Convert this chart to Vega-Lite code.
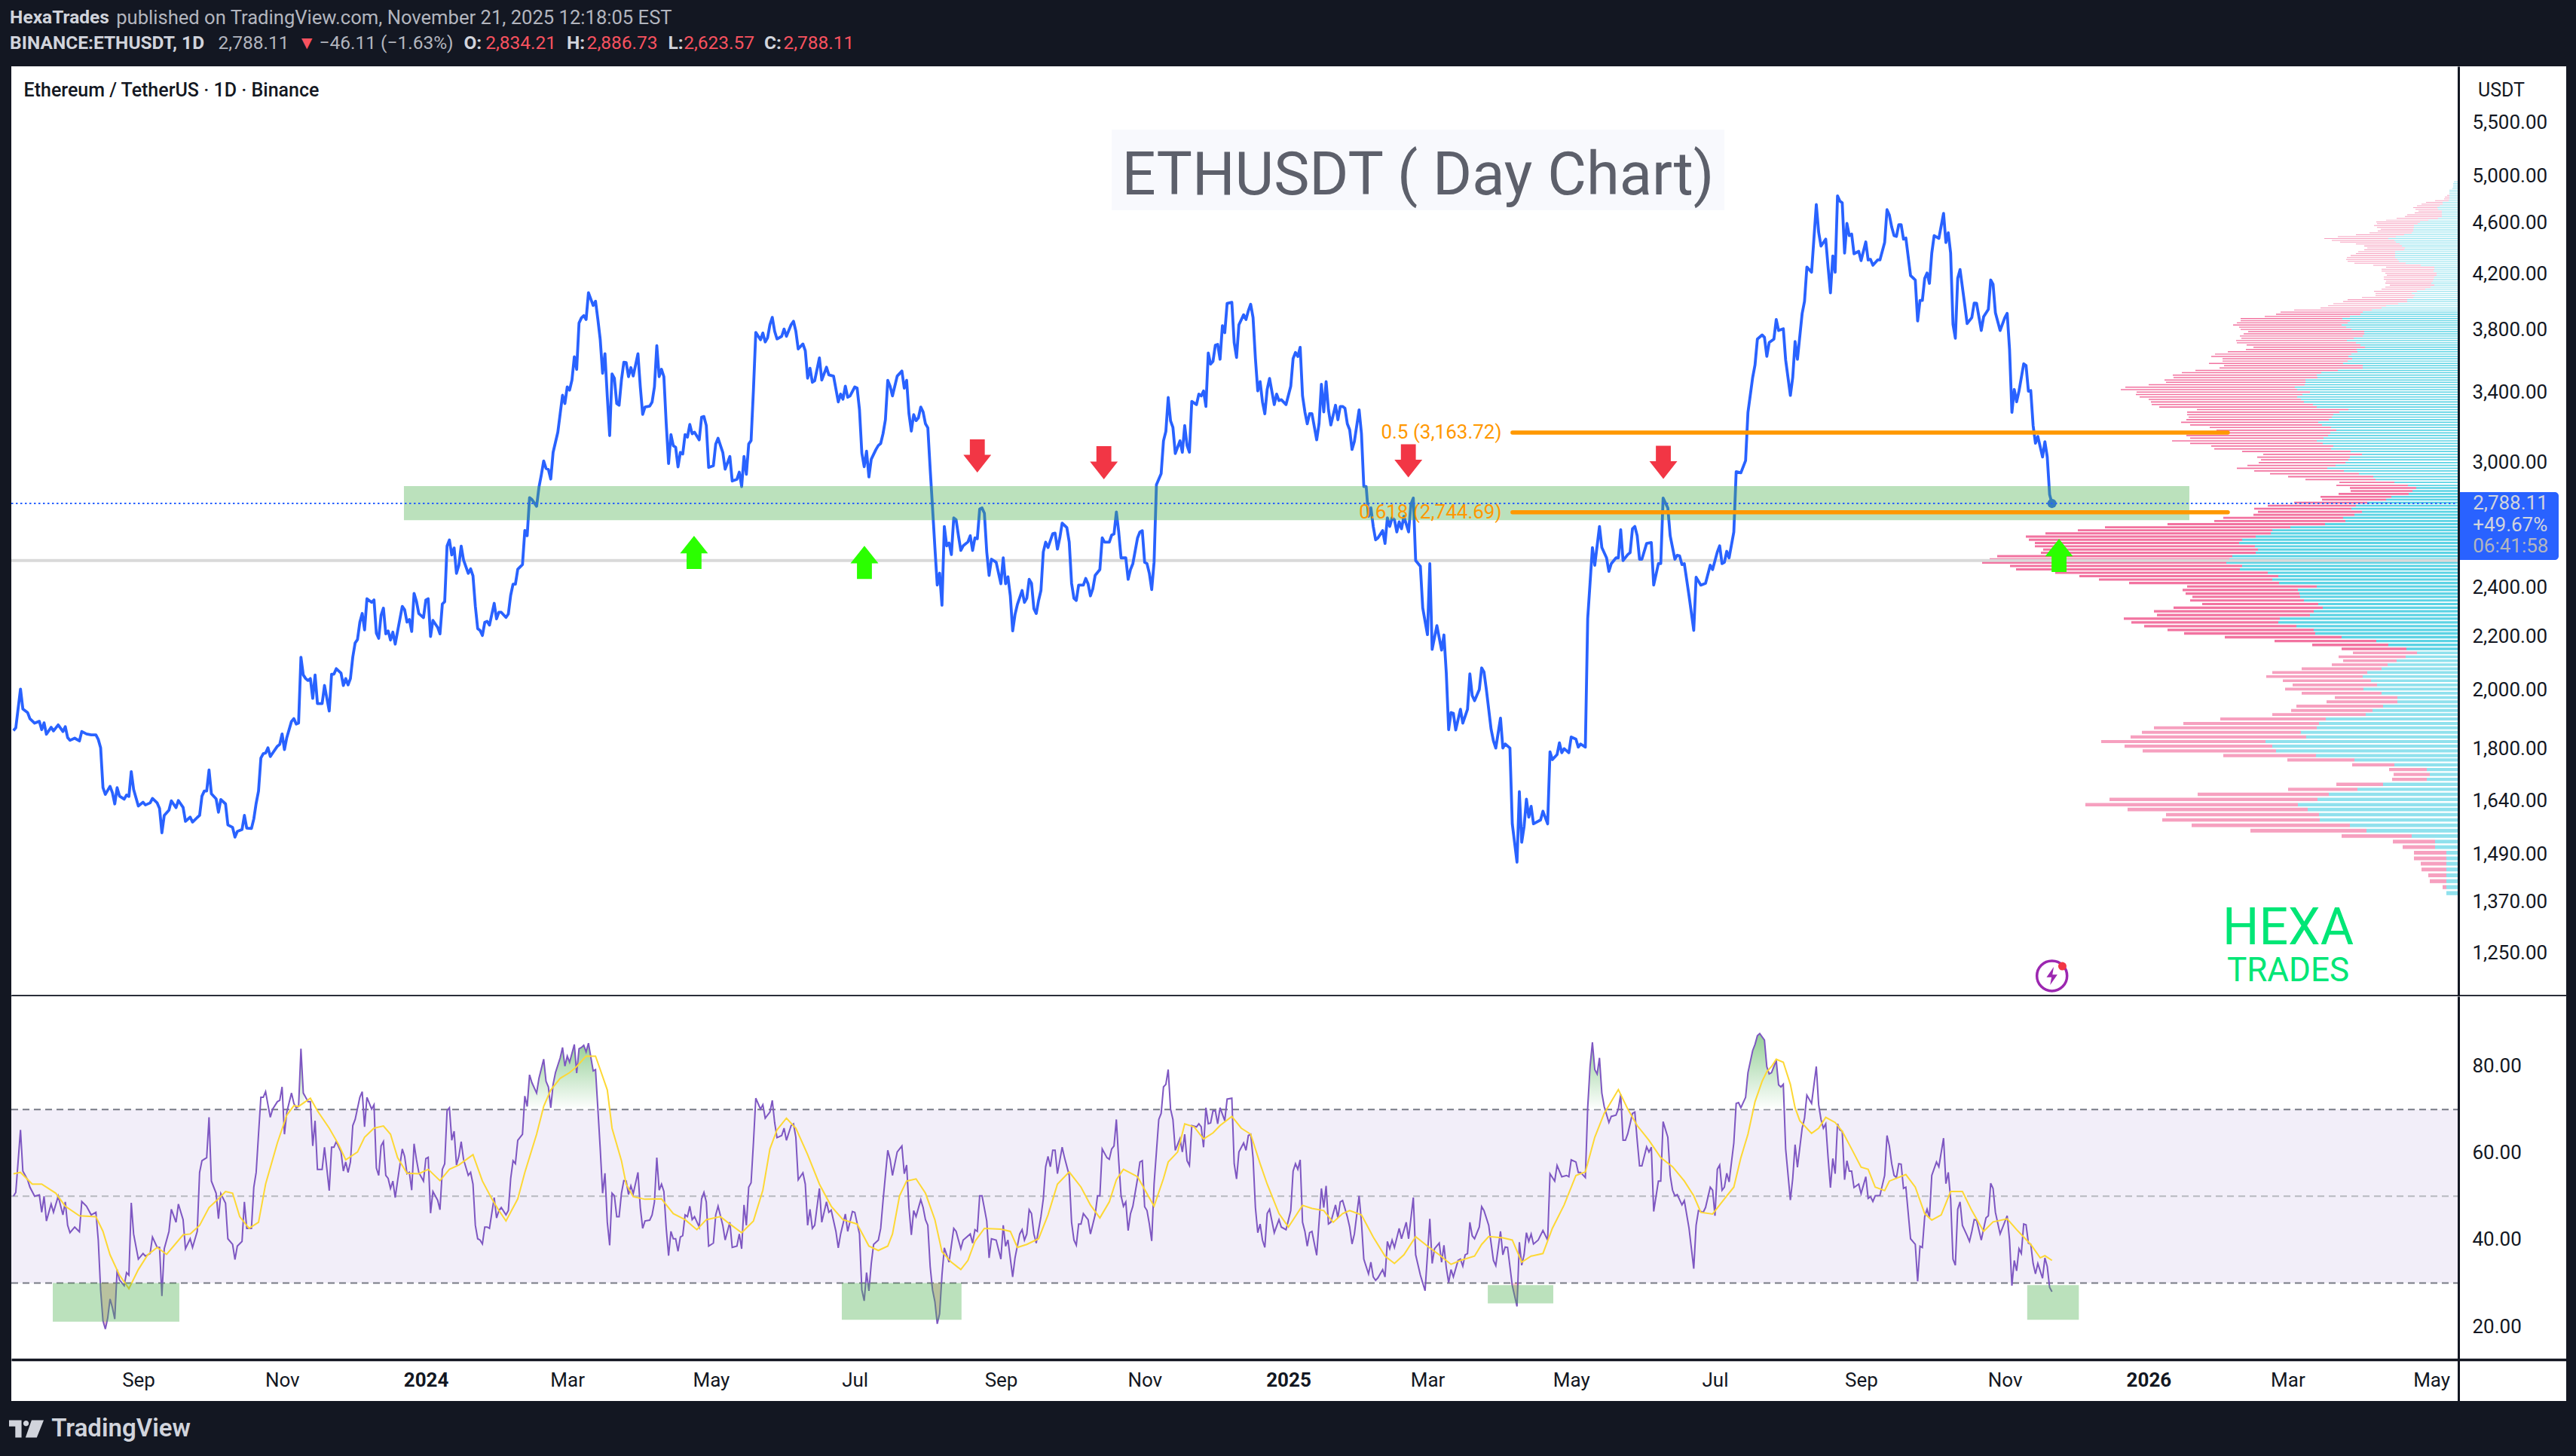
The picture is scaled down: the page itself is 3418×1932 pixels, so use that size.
{"$schema":"https://vega.github.io/schema/vega-lite/v6.json","background":"#131722","padding":{"left":12,"top":0,"right":14,"bottom":0},"spacing":0,
"datasets":{
"price":[{"d":-175,"p":1859},{"d":-174,"p":1868},{"d":-172,"p":2002},{"d":-171,"p":1932},{"d":-169,"p":1920},{"d":-168,"p":1899},{"d":-166,"p":1884},{"d":-164,"p":1890},{"d":-163,"p":1862},{"d":-162,"p":1885},{"d":-161,"p":1847},{"d":-159,"p":1870},{"d":-158,"p":1858},{"d":-156,"p":1878},{"d":-154,"p":1856},{"d":-153,"p":1872},{"d":-152,"p":1836},{"d":-151,"p":1827},{"d":-149,"p":1834},{"d":-147,"p":1825},{"d":-146,"p":1856},{"d":-144,"p":1848},{"d":-142,"p":1845},{"d":-140,"p":1845},{"d":-139,"p":1830},{"d":-138,"p":1803},{"d":-137,"p":1679},{"d":-136,"p":1659},{"d":-134,"p":1683},{"d":-133,"p":1664},{"d":-132,"p":1631},{"d":-131,"p":1679},{"d":-130,"p":1654},{"d":-128,"p":1645},{"d":-127,"p":1657},{"d":-126,"p":1653},{"d":-125,"p":1728},{"d":-124,"p":1674},{"d":-122,"p":1625},{"d":-120,"p":1636},{"d":-119,"p":1628},{"d":-117,"p":1634},{"d":-116,"p":1647},{"d":-114,"p":1634},{"d":-113,"p":1618},{"d":-112,"p":1549},{"d":-111,"p":1598},{"d":-109,"p":1613},{"d":-108,"p":1640},{"d":-106,"p":1620},{"d":-105,"p":1641},{"d":-103,"p":1621},{"d":-102,"p":1581},{"d":-100,"p":1593},{"d":-99,"p":1579},{"d":-97,"p":1592},{"d":-96,"p":1598},{"d":-95,"p":1654},{"d":-94,"p":1669},{"d":-93,"p":1669},{"d":-92,"p":1733},{"d":-91,"p":1661},{"d":-89,"p":1646},{"d":-88,"p":1607},{"d":-87,"p":1644},{"d":-85,"p":1631},{"d":-84,"p":1571},{"d":-82,"p":1564},{"d":-81,"p":1537},{"d":-80,"p":1553},{"d":-78,"p":1558},{"d":-77,"p":1598},{"d":-76,"p":1562},{"d":-74,"p":1561},{"d":-73,"p":1588},{"d":-72,"p":1633},{"d":-71,"p":1669},{"d":-70,"p":1770},{"d":-69,"p":1784},{"d":-68,"p":1786},{"d":-67,"p":1803},{"d":-66,"p":1775},{"d":-65,"p":1786},{"d":-63,"p":1808},{"d":-62,"p":1814},{"d":-61,"p":1848},{"d":-60,"p":1797},{"d":-59,"p":1836},{"d":-57,"p":1890},{"d":-56,"p":1899},{"d":-55,"p":1881},{"d":-54,"p":1884},{"d":-53,"p":2119},{"d":-52,"p":2053},{"d":-51,"p":2040},{"d":-50,"p":2033},{"d":-49,"p":2040},{"d":-48,"p":1969},{"d":-47,"p":2053},{"d":-46,"p":1951},{"d":-44,"p":1951},{"d":-43,"p":2015},{"d":-41,"p":1925},{"d":-40,"p":2056},{"d":-39,"p":2056},{"d":-38,"p":2076},{"d":-36,"p":2060},{"d":-35,"p":2015},{"d":-34,"p":2040},{"d":-33,"p":2017},{"d":-32,"p":2040},{"d":-31,"p":2120},{"d":-30,"p":2174},{"d":-29,"p":2187},{"d":-28,"p":2256},{"d":-27,"p":2291},{"d":-26,"p":2225},{"d":-25,"p":2352},{"d":-23,"p":2337},{"d":-22,"p":2347},{"d":-21,"p":2212},{"d":-20,"p":2192},{"d":-19,"p":2284},{"d":-18,"p":2313},{"d":-17,"p":2209},{"d":-16,"p":2221},{"d":-15,"p":2185},{"d":-14,"p":2216},{"d":-13,"p":2169},{"d":-12,"p":2219},{"d":-10,"p":2320},{"d":-9,"p":2306},{"d":-8,"p":2256},{"d":-7,"p":2267},{"d":-6,"p":2219},{"d":-5,"p":2375},{"d":-4,"p":2342},{"d":-3,"p":2291},{"d":-1,"p":2274},{"d":0,"p":2347},{"d":1,"p":2352},{"d":2,"p":2199},{"d":3,"p":2263},{"d":5,"p":2235},{"d":6,"p":2209},{"d":7,"p":2330},{"d":8,"p":2340},{"d":9,"p":2584},{"d":10,"p":2612},{"d":11,"p":2543},{"d":12,"p":2575},{"d":13,"p":2461},{"d":14,"p":2496},{"d":15,"p":2584},{"d":16,"p":2520},{"d":18,"p":2461},{"d":19,"p":2481},{"d":20,"p":2450},{"d":21,"p":2321},{"d":22,"p":2230},{"d":23,"p":2223},{"d":24,"p":2203},{"d":25,"p":2255},{"d":26,"p":2259},{"d":27,"p":2244},{"d":29,"p":2333},{"d":30,"p":2269},{"d":31,"p":2296},{"d":32,"p":2296},{"d":34,"p":2275},{"d":35,"p":2289},{"d":36,"p":2367},{"d":37,"p":2414},{"d":38,"p":2414},{"d":39,"p":2479},{"d":41,"p":2500},{"d":42,"p":2657},{"d":43,"p":2632},{"d":44,"p":2817},{"d":45,"p":2808},{"d":47,"p":2774},{"d":48,"p":2870},{"d":49,"p":2934},{"d":50,"p":3008},{"d":51,"p":2968},{"d":52,"p":2962},{"d":53,"p":2912},{"d":54,"p":3054},{"d":56,"p":3166},{"d":57,"p":3272},{"d":58,"p":3382},{"d":59,"p":3332},{"d":60,"p":3433},{"d":61,"p":3413},{"d":62,"p":3475},{"d":63,"p":3622},{"d":64,"p":3542},{"d":65,"p":3847},{"d":66,"p":3882},{"d":67,"p":3898},{"d":68,"p":3871},{"d":69,"p":4061},{"d":71,"p":3969},{"d":72,"p":4000},{"d":73,"p":3871},{"d":74,"p":3734},{"d":75,"p":3517},{"d":76,"p":3642},{"d":77,"p":3372},{"d":78,"p":3147},{"d":79,"p":3513},{"d":80,"p":3486},{"d":81,"p":3332},{"d":82,"p":3322},{"d":83,"p":3475},{"d":84,"p":3587},{"d":85,"p":3585},{"d":86,"p":3496},{"d":87,"p":3553},{"d":88,"p":3500},{"d":90,"p":3642},{"d":91,"p":3433},{"d":92,"p":3268},{"d":93,"p":3311},{"d":95,"p":3317},{"d":96,"p":3341},{"d":97,"p":3433},{"d":98,"p":3695},{"d":99,"p":3496},{"d":100,"p":3542},{"d":101,"p":3496},{"d":102,"p":3214},{"d":103,"p":2994},{"d":104,"p":3153},{"d":105,"p":3091},{"d":106,"p":3082},{"d":107,"p":2976},{"d":108,"p":3054},{"d":109,"p":3045},{"d":110,"p":3153},{"d":111,"p":3138},{"d":112,"p":3210},{"d":113,"p":3157},{"d":114,"p":3166},{"d":116,"p":3123},{"d":117,"p":3252},{"d":118,"p":3256},{"d":119,"p":3204},{"d":120,"p":2973},{"d":122,"p":2982},{"d":123,"p":3100},{"d":124,"p":3132},{"d":126,"p":3054},{"d":127,"p":2964},{"d":129,"p":3032},{"d":130,"p":2902},{"d":132,"p":2911},{"d":133,"p":2948},{"d":134,"p":2873},{"d":135,"p":3032},{"d":136,"p":2937},{"d":137,"p":3100},{"d":138,"p":3119},{"d":139,"p":3413},{"d":140,"p":3783},{"d":142,"p":3734},{"d":143,"p":3779},{"d":144,"p":3719},{"d":145,"p":3746},{"d":146,"p":3836},{"d":147,"p":3886},{"d":148,"p":3791},{"d":149,"p":3739},{"d":151,"p":3757},{"d":152,"p":3806},{"d":153,"p":3757},{"d":155,"p":3836},{"d":156,"p":3859},{"d":157,"p":3791},{"d":158,"p":3673},{"d":160,"p":3706},{"d":161,"p":3662},{"d":162,"p":3486},{"d":163,"p":3549},{"d":164,"p":3461},{"d":165,"p":3471},{"d":167,"p":3615},{"d":168,"p":3475},{"d":170,"p":3555},{"d":171,"p":3507},{"d":173,"p":3499},{"d":175,"p":3342},{"d":176,"p":3389},{"d":177,"p":3358},{"d":178,"p":3437},{"d":179,"p":3370},{"d":180,"p":3378},{"d":182,"p":3432},{"d":183,"p":3425},{"d":184,"p":3296},{"d":185,"p":3050},{"d":186,"p":2977},{"d":187,"p":3061},{"d":188,"p":2923},{"d":189,"p":3017},{"d":191,"p":3070},{"d":192,"p":3092},{"d":193,"p":3103},{"d":194,"p":3158},{"d":195,"p":3237},{"d":196,"p":3473},{"d":197,"p":3437},{"d":198,"p":3378},{"d":200,"p":3499},{"d":202,"p":3531},{"d":203,"p":3425},{"d":204,"p":3473},{"d":205,"p":3272},{"d":206,"p":3172},{"d":207,"p":3267},{"d":208,"p":3232},{"d":209,"p":3248},{"d":210,"p":3311},{"d":211,"p":3283},{"d":212,"p":3214},{"d":213,"p":3191},{"d":214,"p":2965},{"d":215,"p":2766},{"d":216,"p":2577},{"d":217,"p":2410},{"d":218,"p":2462},{"d":219,"p":2325},{"d":220,"p":2676},{"d":221,"p":2585},{"d":222,"p":2598},{"d":223,"p":2545},{"d":224,"p":2717},{"d":225,"p":2708},{"d":226,"p":2632},{"d":227,"p":2564},{"d":228,"p":2585},{"d":230,"p":2603},{"d":231,"p":2632},{"d":232,"p":2564},{"d":233,"p":2622},{"d":234,"p":2618},{"d":235,"p":2760},{"d":236,"p":2766},{"d":237,"p":2740},{"d":238,"p":2557},{"d":239,"p":2452},{"d":240,"p":2524},{"d":242,"p":2510},{"d":244,"p":2416},{"d":245,"p":2530},{"d":246,"p":2416},{"d":247,"p":2446},{"d":248,"p":2365},{"d":249,"p":2221},{"d":250,"p":2287},{"d":251,"p":2328},{"d":253,"p":2387},{"d":254,"p":2337},{"d":255,"p":2354},{"d":256,"p":2435},{"d":257,"p":2418},{"d":258,"p":2311},{"d":259,"p":2291},{"d":260,"p":2345},{"d":261,"p":2387},{"d":262,"p":2557},{"d":263,"p":2602},{"d":264,"p":2577},{"d":266,"p":2642},{"d":267,"p":2644},{"d":268,"p":2570},{"d":269,"p":2622},{"d":270,"p":2692},{"d":272,"p":2670},{"d":273,"p":2602},{"d":274,"p":2418},{"d":275,"p":2354},{"d":276,"p":2345},{"d":277,"p":2410},{"d":279,"p":2410},{"d":280,"p":2439},{"d":281,"p":2415},{"d":282,"p":2364},{"d":283,"p":2394},{"d":284,"p":2452},{"d":286,"p":2478},{"d":287,"p":2622},{"d":288,"p":2602},{"d":290,"p":2602},{"d":291,"p":2635},{"d":292,"p":2640},{"d":293,"p":2746},{"d":294,"p":2650},{"d":295,"p":2530},{"d":297,"p":2530},{"d":298,"p":2435},{"d":299,"p":2478},{"d":300,"p":2504},{"d":302,"p":2622},{"d":303,"p":2650},{"d":304,"p":2656},{"d":305,"p":2510},{"d":306,"p":2504},{"d":307,"p":2461},{"d":308,"p":2391},{"d":309,"p":2510},{"d":310,"p":2883},{"d":312,"p":2940},{"d":313,"p":3118},{"d":314,"p":3170},{"d":315,"p":3368},{"d":316,"p":3231},{"d":317,"p":3193},{"d":318,"p":3048},{"d":320,"p":3118},{"d":321,"p":3055},{"d":322,"p":3204},{"d":323,"p":3092},{"d":324,"p":3055},{"d":325,"p":3345},{"d":327,"p":3326},{"d":328,"p":3389},{"d":329,"p":3378},{"d":330,"p":3408},{"d":331,"p":3315},{"d":332,"p":3647},{"d":333,"p":3575},{"d":334,"p":3593},{"d":335,"p":3698},{"d":336,"p":3703},{"d":337,"p":3606},{"d":338,"p":3829},{"d":339,"p":3781},{"d":340,"p":3984},{"d":342,"p":3992},{"d":343,"p":3714},{"d":344,"p":3618},{"d":345,"p":3835},{"d":347,"p":3904},{"d":348,"p":3871},{"d":349,"p":3932},{"d":350,"p":3978},{"d":351,"p":3885},{"d":352,"p":3611},{"d":353,"p":3408},{"d":354,"p":3465},{"d":355,"p":3342},{"d":356,"p":3272},{"d":357,"p":3418},{"d":358,"p":3485},{"d":360,"p":3326},{"d":361,"p":3389},{"d":362,"p":3350},{"d":363,"p":3355},{"d":365,"p":3326},{"d":367,"p":3437},{"d":368,"p":3611},{"d":369,"p":3650},{"d":370,"p":3624},{"d":371,"p":3684},{"d":372,"p":3378},{"d":373,"p":3283},{"d":374,"p":3214},{"d":375,"p":3272},{"d":376,"p":3272},{"d":378,"p":3123},{"d":379,"p":3214},{"d":380,"p":3449},{"d":381,"p":3283},{"d":382,"p":3465},{"d":383,"p":3295},{"d":384,"p":3207},{"d":386,"p":3322},{"d":387,"p":3237},{"d":388,"p":3315},{"d":389,"p":3315},{"d":390,"p":3304},{"d":391,"p":3214},{"d":392,"p":3180},{"d":393,"p":3070},{"d":394,"p":3114},{"d":396,"p":3295},{"d":397,"p":3158},{"d":398,"p":2873},{"d":399,"p":2873},{"d":400,"p":2725},{"d":401,"p":2766},{"d":402,"p":2676},{"d":403,"p":2613},{"d":404,"p":2622},{"d":406,"p":2656},{"d":407,"p":2596},{"d":408,"p":2717},{"d":409,"p":2676},{"d":410,"p":2717},{"d":411,"p":2708},{"d":412,"p":2650},{"d":413,"p":2698},{"d":414,"p":2665},{"d":415,"p":2725},{"d":417,"p":2650},{"d":418,"p":2785},{"d":419,"p":2815},{"d":420,"p":2518},{"d":422,"p":2492},{"d":423,"p":2314},{"d":425,"p":2206},{"d":426,"p":2504},{"d":427,"p":2149},{"d":429,"p":2242},{"d":431,"p":2146},{"d":432,"p":2205},{"d":433,"p":2060},{"d":434,"p":1862},{"d":435,"p":1920},{"d":436,"p":1917},{"d":437,"p":1861},{"d":439,"p":1931},{"d":440,"p":1884},{"d":442,"p":1931},{"d":443,"p":2057},{"d":444,"p":1979},{"d":445,"p":1961},{"d":447,"p":2000},{"d":448,"p":2079},{"d":449,"p":2064},{"d":450,"p":2000},{"d":452,"p":1864},{"d":453,"p":1825},{"d":454,"p":1802},{"d":456,"p":1901},{"d":457,"p":1802},{"d":458,"p":1815},{"d":460,"p":1802},{"d":461,"p":1574},{"d":463,"p":1470},{"d":464,"p":1667},{"d":465,"p":1523},{"d":466,"p":1566},{"d":467,"p":1645},{"d":468,"p":1593},{"d":469,"p":1624},{"d":470,"p":1574},{"d":473,"p":1585},{"d":474,"p":1610},{"d":476,"p":1574},{"d":477,"p":1790},{"d":478,"p":1765},{"d":480,"p":1781},{"d":481,"p":1819},{"d":482,"p":1787},{"d":483,"p":1800},{"d":485,"p":1787},{"d":486,"p":1838},{"d":488,"p":1831},{"d":489,"p":1805},{"d":490,"p":1815},{"d":492,"p":1805},{"d":493,"p":2270},{"d":495,"p":2577},{"d":496,"p":2497},{"d":498,"p":2676},{"d":499,"p":2577},{"d":501,"p":2530},{"d":502,"p":2470},{"d":503,"p":2504},{"d":505,"p":2530},{"d":506,"p":2530},{"d":507,"p":2660},{"d":508,"p":2518},{"d":510,"p":2545},{"d":511,"p":2554},{"d":512,"p":2665},{"d":513,"p":2676},{"d":514,"p":2632},{"d":515,"p":2524},{"d":516,"p":2524},{"d":518,"p":2596},{"d":520,"p":2600},{"d":521,"p":2410},{"d":523,"p":2504},{"d":524,"p":2504},{"d":525,"p":2815},{"d":527,"p":2766},{"d":528,"p":2632},{"d":529,"p":2577},{"d":530,"p":2524},{"d":531,"p":2542},{"d":532,"p":2539},{"d":533,"p":2500},{"d":534,"p":2504},{"d":536,"p":2365},{"d":538,"p":2223},{"d":539,"p":2444},{"d":541,"p":2410},{"d":543,"p":2418},{"d":545,"p":2497},{"d":546,"p":2478},{"d":548,"p":2557},{"d":549,"p":2585},{"d":550,"p":2504},{"d":551,"p":2510},{"d":552,"p":2560},{"d":553,"p":2530},{"d":555,"p":2650},{"d":556,"p":2951},{"d":558,"p":2945},{"d":560,"p":3010},{"d":561,"p":3280},{"d":563,"p":3491},{"d":564,"p":3570},{"d":565,"p":3738},{"d":567,"p":3766},{"d":568,"p":3750},{"d":569,"p":3625},{"d":570,"p":3715},{"d":572,"p":3738},{"d":573,"p":3871},{"d":574,"p":3796},{"d":576,"p":3808},{"d":577,"p":3601},{"d":579,"p":3381},{"d":580,"p":3491},{"d":581,"p":3722},{"d":582,"p":3606},{"d":584,"p":3914},{"d":585,"p":3999},{"d":586,"p":4251},{"d":588,"p":4212},{"d":590,"p":4753},{"d":591,"p":4524},{"d":592,"p":4413},{"d":594,"p":4468},{"d":595,"p":4251},{"d":596,"p":4060},{"d":597,"p":4336},{"d":598,"p":4212},{"d":599,"p":4827},{"d":600,"p":4782},{"d":601,"p":4768},{"d":602,"p":4358},{"d":603,"p":4595},{"d":604,"p":4496},{"d":605,"p":4509},{"d":606,"p":4353},{"d":608,"p":4372},{"d":609,"p":4300},{"d":611,"p":4446},{"d":612,"p":4305},{"d":613,"p":4310},{"d":614,"p":4265},{"d":616,"p":4305},{"d":617,"p":4305},{"d":619,"p":4441},{"d":620,"p":4709},{"d":621,"p":4665},{"d":622,"p":4565},{"d":623,"p":4496},{"d":624,"p":4490},{"d":625,"p":4585},{"d":626,"p":4585},{"d":627,"p":4468},{"d":628,"p":4477},{"d":630,"p":4187},{"d":632,"p":4154},{"d":633,"p":3861},{"d":634,"p":4005},{"d":635,"p":4005},{"d":636,"p":4167},{"d":637,"p":4206},{"d":638,"p":4129},{"d":639,"p":4358},{"d":640,"p":4496},{"d":642,"p":4474},{"d":644,"p":4678},{"d":645,"p":4441},{"d":646,"p":4519},{"d":647,"p":4358},{"d":648,"p":3838},{"d":649,"p":3744},{"d":650,"p":4167},{"d":651,"p":4232},{"d":653,"p":3973},{"d":654,"p":3843},{"d":656,"p":3885},{"d":657,"p":3987},{"d":658,"p":3985},{"d":660,"p":3796},{"d":661,"p":3890},{"d":663,"p":3942},{"d":664,"p":4154},{"d":665,"p":4123},{"d":666,"p":3918},{"d":668,"p":3796},{"d":670,"p":3885},{"d":671,"p":3914},{"d":672,"p":3670},{"d":673,"p":3280},{"d":674,"p":3417},{"d":675,"p":3343},{"d":676,"p":3406},{"d":678,"p":3577},{"d":679,"p":3566},{"d":680,"p":3406},{"d":681,"p":3410},{"d":682,"p":3204},{"d":683,"p":3104},{"d":684,"p":3142},{"d":686,"p":3029},{"d":687,"p":3113},{"d":688,"p":3029},{"d":689,"p":2833},{"d":690,"p":2788}],
"rsi":[{"d":-175,"r":50},{"d":-174,"r":50.9},{"d":-172,"r":65.3},{"d":-171,"r":55.8},{"d":-169,"r":53.8},{"d":-168,"r":52.1},{"d":-166,"r":50},{"d":-164,"r":50.3},{"d":-163,"r":46.3},{"d":-162,"r":50},{"d":-161,"r":44.3},{"d":-159,"r":48.2},{"d":-158,"r":46.3},{"d":-156,"r":50},{"d":-154,"r":45.7},{"d":-153,"r":48.7},{"d":-152,"r":43.3},{"d":-151,"r":41.6},{"d":-149,"r":42.9},{"d":-147,"r":41.8},{"d":-146,"r":48.8},{"d":-144,"r":47.7},{"d":-142,"r":45.7},{"d":-140,"r":46.3},{"d":-139,"r":39.9},{"d":-138,"r":28.4},{"d":-137,"r":21.3},{"d":-136,"r":19.4},{"d":-135,"r":21.9},{"d":-134,"r":26.3},{"d":-133,"r":24.3},{"d":-132,"r":21.7},{"d":-131,"r":33.1},{"d":-130,"r":30.7},{"d":-128,"r":29.4},{"d":-127,"r":32.4},{"d":-126,"r":31.8},{"d":-125,"r":48.5},{"d":-124,"r":41.3},{"d":-122,"r":35.5},{"d":-120,"r":36.8},{"d":-119,"r":36.2},{"d":-117,"r":36.8},{"d":-116,"r":40.6},{"d":-114,"r":38.2},{"d":-113,"r":38.2},{"d":-112,"r":27},{"d":-111,"r":37.9},{"d":-109,"r":41.9},{"d":-108,"r":47},{"d":-106,"r":44},{"d":-105,"r":48.2},{"d":-103,"r":44.6},{"d":-102,"r":37.9},{"d":-100,"r":40.2},{"d":-99,"r":38.2},{"d":-97,"r":41.9},{"d":-96,"r":55.5},{"d":-95,"r":58.2},{"d":-93,"r":58.9},{"d":-92,"r":68.2},{"d":-91,"r":53.5},{"d":-89,"r":50.7},{"d":-88,"r":44.8},{"d":-87,"r":50.6},{"d":-85,"r":48.4},{"d":-84,"r":40.2},{"d":-82,"r":38.9},{"d":-81,"r":35.4},{"d":-80,"r":38.5},{"d":-78,"r":39.6},{"d":-77,"r":48.7},{"d":-76,"r":42.6},{"d":-74,"r":42.6},{"d":-73,"r":52.1},{"d":-72,"r":55.5},{"d":-71,"r":64.3},{"d":-70,"r":72.8},{"d":-69,"r":72.8},{"d":-68,"r":74.1},{"d":-67,"r":71.1},{"d":-66,"r":68.2},{"d":-65,"r":70.1},{"d":-63,"r":71.8},{"d":-62,"r":72.1},{"d":-61,"r":75.2},{"d":-60,"r":64.3},{"d":-59,"r":69.4},{"d":-57,"r":73.8},{"d":-56,"r":71.4},{"d":-55,"r":70.4},{"d":-54,"r":70.7},{"d":-53,"r":84},{"d":-52,"r":73.8},{"d":-50,"r":71.8},{"d":-49,"r":71.8},{"d":-48,"r":61.6},{"d":-47,"r":67.4},{"d":-46,"r":56.2},{"d":-44,"r":56.2},{"d":-43,"r":61.3},{"d":-41,"r":51.3},{"d":-40,"r":61.3},{"d":-39,"r":61.3},{"d":-38,"r":62.6},{"d":-36,"r":60.2},{"d":-35,"r":55.8},{"d":-34,"r":57.9},{"d":-33,"r":55.5},{"d":-32,"r":57.9},{"d":-31,"r":66.3},{"d":-30,"r":67.7},{"d":-28,"r":72.8},{"d":-27,"r":74.1},{"d":-26,"r":66},{"d":-25,"r":72.8},{"d":-23,"r":70.1},{"d":-22,"r":71.1},{"d":-21,"r":56.5},{"d":-20,"r":54.8},{"d":-19,"r":61.6},{"d":-18,"r":62.6},{"d":-17,"r":54.8},{"d":-16,"r":54.1},{"d":-15,"r":51.8},{"d":-14,"r":53.5},{"d":-13,"r":49.7},{"d":-12,"r":53.5},{"d":-10,"r":60.9},{"d":-9,"r":59.2},{"d":-8,"r":55.2},{"d":-7,"r":55.5},{"d":-6,"r":51.4},{"d":-5,"r":62.1},{"d":-4,"r":58.5},{"d":-3,"r":55.5},{"d":-1,"r":53.5},{"d":0,"r":58.7},{"d":1,"r":59},{"d":2,"r":46.1},{"d":3,"r":51.1},{"d":5,"r":49.1},{"d":6,"r":46.9},{"d":7,"r":56.2},{"d":8,"r":57.5},{"d":9,"r":69.7},{"d":10,"r":70.4},{"d":11,"r":62.9},{"d":12,"r":65},{"d":13,"r":57.2},{"d":14,"r":59.2},{"d":15,"r":62.6},{"d":16,"r":58.5},{"d":18,"r":54.8},{"d":19,"r":55.5},{"d":20,"r":52.8},{"d":21,"r":43.3},{"d":22,"r":40.2},{"d":23,"r":39.9},{"d":24,"r":39},{"d":25,"r":42.9},{"d":26,"r":42.9},{"d":27,"r":42.6},{"d":29,"r":49.7},{"d":30,"r":45},{"d":31,"r":46.7},{"d":32,"r":47.4},{"d":34,"r":45.7},{"d":35,"r":46.7},{"d":36,"r":54.1},{"d":37,"r":58.2},{"d":38,"r":57.5},{"d":39,"r":62.9},{"d":41,"r":64.3},{"d":42,"r":73.1},{"d":43,"r":70.7},{"d":44,"r":78},{"d":45,"r":76.2},{"d":47,"r":73.8},{"d":48,"r":77.2},{"d":50,"r":81.6},{"d":51,"r":76.5},{"d":52,"r":75.2},{"d":53,"r":70.4},{"d":54,"r":75.8},{"d":55,"r":78.5},{"d":57,"r":81.9},{"d":58,"r":84.3},{"d":59,"r":80},{"d":60,"r":82.3},{"d":61,"r":80.9},{"d":63,"r":85},{"d":64,"r":78.4},{"d":65,"r":84},{"d":66,"r":84.3},{"d":67,"r":84.8},{"d":68,"r":83.3},{"d":69,"r":85.3},{"d":71,"r":78.9},{"d":72,"r":79.2},{"d":73,"r":70.1},{"d":74,"r":60.9},{"d":75,"r":50.7},{"d":76,"r":55.3},{"d":77,"r":44},{"d":78,"r":38.7},{"d":79,"r":50.7},{"d":80,"r":50.1},{"d":81,"r":45.3},{"d":82,"r":45.3},{"d":83,"r":50.7},{"d":84,"r":53.6},{"d":85,"r":53.5},{"d":86,"r":50.4},{"d":87,"r":52.4},{"d":88,"r":50.6},{"d":90,"r":55.5},{"d":91,"r":47.4},{"d":92,"r":42.6},{"d":93,"r":44.3},{"d":95,"r":44.5},{"d":96,"r":45.7},{"d":97,"r":48.7},{"d":98,"r":58.9},{"d":99,"r":51.4},{"d":100,"r":52.8},{"d":101,"r":51.1},{"d":102,"r":42.6},{"d":103,"r":36.3},{"d":104,"r":41.9},{"d":105,"r":40.2},{"d":106,"r":40.2},{"d":107,"r":37.3},{"d":108,"r":40.6},{"d":109,"r":40.9},{"d":110,"r":45.7},{"d":111,"r":45.3},{"d":112,"r":47.7},{"d":113,"r":44.6},{"d":114,"r":45.3},{"d":116,"r":42.9},{"d":117,"r":49.4},{"d":118,"r":50.9},{"d":119,"r":48.7},{"d":120,"r":38.5},{"d":122,"r":39.2},{"d":123,"r":45.7},{"d":124,"r":47.7},{"d":126,"r":43.3},{"d":127,"r":39.9},{"d":129,"r":44},{"d":130,"r":38.2},{"d":132,"r":38.5},{"d":133,"r":41.3},{"d":134,"r":37.9},{"d":135,"r":48},{"d":136,"r":43.3},{"d":137,"r":52.1},{"d":138,"r":53.1},{"d":139,"r":62.3},{"d":140,"r":72.6},{"d":142,"r":70.1},{"d":143,"r":71.1},{"d":144,"r":68},{"d":146,"r":69.4},{"d":147,"r":72.1},{"d":148,"r":67},{"d":149,"r":63.5},{"d":151,"r":64},{"d":152,"r":65.7},{"d":153,"r":62.9},{"d":155,"r":66.3},{"d":156,"r":66.7},{"d":157,"r":63.6},{"d":158,"r":53.8},{"d":160,"r":55.4},{"d":161,"r":52.8},{"d":162,"r":43.3},{"d":163,"r":47},{"d":164,"r":42.6},{"d":165,"r":43.3},{"d":167,"r":51.8},{"d":168,"r":44},{"d":170,"r":48.7},{"d":171,"r":46.3},{"d":172,"r":46.8},{"d":174,"r":41.9},{"d":175,"r":38.1},{"d":176,"r":41.3},{"d":178,"r":45.9},{"d":179,"r":41.9},{"d":181,"r":46.5},{"d":182,"r":46.3},{"d":184,"r":41.3},{"d":185,"r":28.4},{"d":186,"r":25.9},{"d":187,"r":32.4},{"d":188,"r":28.2},{"d":189,"r":34.5},{"d":190,"r":38.9},{"d":192,"r":39.9},{"d":193,"r":42.6},{"d":194,"r":49},{"d":196,"r":60.6},{"d":197,"r":58.5},{"d":198,"r":54.8},{"d":200,"r":60.2},{"d":201,"r":60.9},{"d":202,"r":61.6},{"d":203,"r":55.2},{"d":204,"r":57.2},{"d":205,"r":47.4},{"d":206,"r":41.1},{"d":207,"r":46.7},{"d":208,"r":45.3},{"d":210,"r":49.2},{"d":211,"r":47.4},{"d":212,"r":44.6},{"d":213,"r":43.3},{"d":214,"r":33.8},{"d":215,"r":28.4},{"d":216,"r":25.7},{"d":217,"r":20.6},{"d":218,"r":22.9},{"d":219,"r":31.8},{"d":220,"r":38.1},{"d":221,"r":36.5},{"d":222,"r":34.8},{"d":224,"r":42.6},{"d":225,"r":41.9},{"d":227,"r":37.9},{"d":228,"r":39.9},{"d":231,"r":41.3},{"d":232,"r":39.2},{"d":233,"r":42.3},{"d":234,"r":41.9},{"d":235,"r":50.1},{"d":236,"r":50.1},{"d":238,"r":44.3},{"d":239,"r":35.8},{"d":240,"r":40.2},{"d":242,"r":39.9},{"d":244,"r":35.5},{"d":245,"r":43.3},{"d":246,"r":38.5},{"d":247,"r":39.9},{"d":249,"r":31.4},{"d":250,"r":35.8},{"d":252,"r":41.3},{"d":253,"r":42.3},{"d":254,"r":39.9},{"d":255,"r":41.3},{"d":256,"r":46.9},{"d":257,"r":46},{"d":258,"r":41.3},{"d":259,"r":39.2},{"d":261,"r":45.3},{"d":262,"r":49.4},{"d":263,"r":56.8},{"d":264,"r":59.2},{"d":265,"r":56.8},{"d":266,"r":60.6},{"d":267,"r":60.6},{"d":268,"r":55.2},{"d":270,"r":61.3},{"d":271,"r":58.9},{"d":273,"r":54.8},{"d":274,"r":44},{"d":275,"r":39.9},{"d":276,"r":38.7},{"d":277,"r":43.6},{"d":278,"r":43.6},{"d":279,"r":46},{"d":281,"r":44.6},{"d":282,"r":41.3},{"d":284,"r":45.7},{"d":285,"r":50.1},{"d":286,"r":50.1},{"d":287,"r":60.9},{"d":289,"r":58.9},{"d":290,"r":58.5},{"d":291,"r":60.9},{"d":292,"r":61.6},{"d":293,"r":67.7},{"d":294,"r":58.2},{"d":295,"r":50.1},{"d":296,"r":47.7},{"d":297,"r":48.7},{"d":298,"r":42.1},{"d":299,"r":46},{"d":300,"r":47.7},{"d":302,"r":54.1},{"d":303,"r":57.9},{"d":304,"r":58.2},{"d":305,"r":47.6},{"d":306,"r":46.7},{"d":307,"r":43.6},{"d":308,"r":39.7},{"d":309,"r":52.8},{"d":311,"r":67.7},{"d":312,"r":69.1},{"d":313,"r":75.2},{"d":314,"r":75.8},{"d":315,"r":79.2},{"d":316,"r":70.1},{"d":317,"r":67.7},{"d":318,"r":60.6},{"d":320,"r":63.3},{"d":321,"r":60.2},{"d":322,"r":64.3},{"d":323,"r":58.2},{"d":324,"r":57.1},{"d":325,"r":66.3},{"d":327,"r":66},{"d":328,"r":66.7},{"d":329,"r":66},{"d":330,"r":61.3},{"d":331,"r":70.4},{"d":332,"r":66.7},{"d":333,"r":66.9},{"d":334,"r":69.7},{"d":335,"r":69.7},{"d":336,"r":66.7},{"d":337,"r":70.4},{"d":339,"r":67.4},{"d":340,"r":72.4},{"d":342,"r":72.6},{"d":343,"r":57.5},{"d":344,"r":54},{"d":345,"r":60.2},{"d":347,"r":62.3},{"d":348,"r":60.6},{"d":349,"r":64},{"d":350,"r":64.3},{"d":351,"r":58.9},{"d":352,"r":47.4},{"d":353,"r":41.6},{"d":354,"r":43.6},{"d":355,"r":39.9},{"d":356,"r":38.2},{"d":357,"r":46},{"d":358,"r":47},{"d":360,"r":41.6},{"d":362,"r":44.6},{"d":363,"r":42.9},{"d":365,"r":42.3},{"d":367,"r":46.7},{"d":368,"r":55.8},{"d":369,"r":57.5},{"d":370,"r":56.2},{"d":371,"r":58.4},{"d":372,"r":44},{"d":373,"r":41.9},{"d":374,"r":38.5},{"d":375,"r":41.6},{"d":376,"r":41.9},{"d":378,"r":36.4},{"d":379,"r":44},{"d":380,"r":51.8},{"d":381,"r":47.4},{"d":382,"r":52.4},{"d":383,"r":43.6},{"d":384,"r":44},{"d":386,"r":48},{"d":387,"r":45},{"d":388,"r":48.7},{"d":389,"r":49},{"d":391,"r":45.3},{"d":392,"r":42.9},{"d":393,"r":39},{"d":394,"r":41.3},{"d":396,"r":50.1},{"d":397,"r":44},{"d":398,"r":35.5},{"d":400,"r":32.1},{"d":401,"r":34.8},{"d":402,"r":31.4},{"d":403,"r":30.6},{"d":404,"r":31.2},{"d":406,"r":33.1},{"d":407,"r":31.4},{"d":408,"r":39.6},{"d":409,"r":37.9},{"d":410,"r":39.9},{"d":411,"r":38.2},{"d":413,"r":42.6},{"d":414,"r":40.2},{"d":416,"r":44},{"d":417,"r":40.2},{"d":419,"r":49.7},{"d":420,"r":36.5},{"d":422,"r":31.8},{"d":424,"r":28.2},{"d":426,"r":44.8},{"d":427,"r":34.5},{"d":428,"r":37.9},{"d":430,"r":39.2},{"d":431,"r":34.8},{"d":432,"r":38.7},{"d":433,"r":33.5},{"d":434,"r":30.1},{"d":435,"r":33.1},{"d":436,"r":31.4},{"d":438,"r":35.2},{"d":439,"r":35.5},{"d":440,"r":33.9},{"d":441,"r":36.5},{"d":442,"r":36.8},{"d":443,"r":44},{"d":444,"r":40.9},{"d":445,"r":40.2},{"d":447,"r":42.9},{"d":448,"r":47.6},{"d":449,"r":46.7},{"d":451,"r":43.3},{"d":452,"r":39.2},{"d":453,"r":35.2},{"d":454,"r":34},{"d":456,"r":41.9},{"d":457,"r":36.5},{"d":458,"r":38.3},{"d":459,"r":38.2},{"d":461,"r":29.4},{"d":463,"r":24.6},{"d":464,"r":39.4},{"d":465,"r":34.1},{"d":466,"r":36.5},{"d":467,"r":41.6},{"d":468,"r":39.6},{"d":469,"r":41.3},{"d":470,"r":39},{"d":472,"r":39.9},{"d":474,"r":42.1},{"d":476,"r":39.9},{"d":477,"r":55.2},{"d":479,"r":53.5},{"d":480,"r":57.1},{"d":482,"r":54.5},{"d":484,"r":54.8},{"d":485,"r":54.5},{"d":486,"r":58.4},{"d":488,"r":57.9},{"d":489,"r":55.5},{"d":490,"r":55.5},{"d":492,"r":54.3},{"d":493,"r":70.4},{"d":494,"r":79.9},{"d":495,"r":85.5},{"d":496,"r":79.2},{"d":497,"r":78.2},{"d":498,"r":81.9},{"d":499,"r":73.8},{"d":500,"r":70.7},{"d":502,"r":67},{"d":503,"r":68.4},{"d":505,"r":68.7},{"d":506,"r":70.1},{"d":507,"r":73.5},{"d":508,"r":62.9},{"d":509,"r":62.9},{"d":510,"r":64.4},{"d":512,"r":69.1},{"d":513,"r":69.4},{"d":514,"r":62.9},{"d":515,"r":57},{"d":516,"r":57},{"d":518,"r":61.4},{"d":519,"r":60.2},{"d":520,"r":61.3},{"d":521,"r":46.5},{"d":523,"r":53.5},{"d":524,"r":53.5},{"d":525,"r":67.2},{"d":527,"r":63.6},{"d":528,"r":54.8},{"d":529,"r":51.4},{"d":530,"r":50.1},{"d":531,"r":50.4},{"d":533,"r":48},{"d":534,"r":49},{"d":536,"r":42.6},{"d":538,"r":33.3},{"d":539,"r":43.3},{"d":540,"r":46.7},{"d":542,"r":46.3},{"d":543,"r":47.4},{"d":545,"r":52.1},{"d":546,"r":51.4},{"d":547,"r":45.5},{"d":548,"r":56.2},{"d":549,"r":57.2},{"d":550,"r":51.4},{"d":551,"r":52.1},{"d":552,"r":55.3},{"d":553,"r":53.3},{"d":555,"r":62.3},{"d":556,"r":71.4},{"d":557,"r":71.6},{"d":558,"r":70.4},{"d":560,"r":72.8},{"d":561,"r":78.5},{"d":563,"r":83.6},{"d":564,"r":85},{"d":565,"r":87},{"d":566,"r":87.5},{"d":568,"r":86},{"d":569,"r":79.9},{"d":570,"r":78.2},{"d":571,"r":78.5},{"d":573,"r":81.3},{"d":574,"r":75.7},{"d":575,"r":75.2},{"d":576,"r":75.8},{"d":577,"r":60.9},{"d":579,"r":49.1},{"d":580,"r":54.1},{"d":581,"r":61.9},{"d":582,"r":56.7},{"d":584,"r":65.7},{"d":585,"r":68},{"d":586,"r":73.3},{"d":588,"r":71.4},{"d":590,"r":79.9},{"d":591,"r":71.1},{"d":592,"r":67.7},{"d":593,"r":65.7},{"d":594,"r":66.7},{"d":595,"r":58.9},{"d":596,"r":52},{"d":597,"r":58.7},{"d":598,"r":55.2},{"d":599,"r":66.7},{"d":600,"r":65.3},{"d":601,"r":65},{"d":602,"r":53.8},{"d":603,"r":58.2},{"d":604,"r":55.8},{"d":605,"r":55.8},{"d":606,"r":52},{"d":608,"r":52.8},{"d":609,"r":50.6},{"d":611,"r":54.5},{"d":612,"r":49.5},{"d":613,"r":49.9},{"d":614,"r":48.8},{"d":615,"r":50.1},{"d":617,"r":50.2},{"d":619,"r":54.8},{"d":620,"r":64},{"d":621,"r":61.6},{"d":622,"r":57.5},{"d":623,"r":54.8},{"d":624,"r":54.3},{"d":625,"r":57.5},{"d":626,"r":57.4},{"d":627,"r":51.8},{"d":628,"r":52.1},{"d":630,"r":40.2},{"d":632,"r":38.9},{"d":633,"r":30.4},{"d":634,"r":38.5},{"d":635,"r":38.2},{"d":636,"r":45.3},{"d":637,"r":47},{"d":638,"r":45},{"d":639,"r":54.8},{"d":641,"r":57.9},{"d":642,"r":56.8},{"d":644,"r":63.4},{"d":645,"r":52.9},{"d":646,"r":55.5},{"d":647,"r":49.4},{"d":648,"r":35.5},{"d":649,"r":34.1},{"d":650,"r":47},{"d":651,"r":48.7},{"d":652,"r":43.3},{"d":654,"r":40.9},{"d":655,"r":39.6},{"d":656,"r":41.9},{"d":657,"r":44.6},{"d":658,"r":44.5},{"d":660,"r":39.9},{"d":662,"r":45},{"d":663,"r":45.5},{"d":664,"r":53},{"d":665,"r":51.8},{"d":666,"r":46.3},{"d":668,"r":41.3},{"d":671,"r":45.5},{"d":672,"r":39.9},{"d":673,"r":29.4},{"d":674,"r":35.2},{"d":675,"r":32.8},{"d":676,"r":37.9},{"d":677,"r":36.8},{"d":678,"r":43.6},{"d":679,"r":43.4},{"d":680,"r":39.2},{"d":681,"r":38.9},{"d":682,"r":34.5},{"d":683,"r":32.1},{"d":684,"r":34.5},{"d":686,"r":31.1},{"d":687,"r":35.8},{"d":688,"r":33.8},{"d":689,"r":29},{"d":690,"r":28}],
"ma":[{"d":-175,"r":55.2},{"d":-172,"r":55.5},{"d":-167,"r":52.8},{"d":-163,"r":52.8},{"d":-157,"r":50.7},{"d":-153,"r":47.7},{"d":-147,"r":45.5},{"d":-140,"r":45.3},{"d":-137,"r":41.9},{"d":-134,"r":36.5},{"d":-130,"r":31.8},{"d":-126,"r":28.7},{"d":-122,"r":33.1},{"d":-118,"r":36.5},{"d":-114,"r":38.2},{"d":-110,"r":36.6},{"d":-103,"r":41.1},{"d":-100,"r":41.3},{"d":-96,"r":43.3},{"d":-92,"r":47.4},{"d":-88,"r":49.4},{"d":-85,"r":51.1},{"d":-82,"r":50.7},{"d":-79,"r":45.3},{"d":-75,"r":42.6},{"d":-71,"r":44},{"d":-68,"r":52.8},{"d":-63,"r":62.3},{"d":-59,"r":68.7},{"d":-56,"r":70.9},{"d":-54,"r":70.7},{"d":-49,"r":72.6},{"d":-46,"r":69.7},{"d":-41,"r":65.7},{"d":-37,"r":61.9},{"d":-34,"r":58.4},{"d":-29,"r":60.2},{"d":-26,"r":63.6},{"d":-22,"r":65.7},{"d":-18,"r":66.2},{"d":-15,"r":64.3},{"d":-12,"r":58.9},{"d":-8,"r":55.3},{"d":-3,"r":55.2},{"d":1,"r":56.2},{"d":6,"r":53.6},{"d":10,"r":56.2},{"d":14,"r":57.2},{"d":20,"r":59.6},{"d":24,"r":53.5},{"d":28,"r":49.4},{"d":31,"r":46.7},{"d":34,"r":44.3},{"d":39,"r":49.4},{"d":42,"r":55.5},{"d":47,"r":64.3},{"d":50,"r":70.7},{"d":53,"r":74.5},{"d":57,"r":77.2},{"d":61,"r":78.5},{"d":64,"r":79.9},{"d":68,"r":82.3},{"d":72,"r":82.3},{"d":74,"r":79.2},{"d":77,"r":74.5},{"d":79,"r":65.7},{"d":83,"r":58.2},{"d":85,"r":52.8},{"d":88,"r":49.9},{"d":93,"r":49.3},{"d":100,"r":49.4},{"d":105,"r":46},{"d":110,"r":44.6},{"d":115,"r":42.3},{"d":119,"r":44.6},{"d":125,"r":45.3},{"d":129,"r":43.6},{"d":134,"r":41.6},{"d":139,"r":44.3},{"d":143,"r":51.4},{"d":146,"r":60.9},{"d":149,"r":65.3},{"d":153,"r":68},{"d":157,"r":65.7},{"d":162,"r":59.6},{"d":167,"r":52.8},{"d":172,"r":47.7},{"d":177,"r":44.6},{"d":183,"r":43.6},{"d":188,"r":38.5},{"d":192,"r":37.5},{"d":196,"r":38.5},{"d":198,"r":41.3},{"d":201,"r":50.1},{"d":204,"r":53.5},{"d":208,"r":54},{"d":212,"r":50.7},{"d":216,"r":44.6},{"d":219,"r":37.2},{"d":223,"r":34.8},{"d":227,"r":33.1},{"d":230,"r":35.2},{"d":233,"r":39.6},{"d":237,"r":42.6},{"d":244,"r":42.4},{"d":248,"r":41.9},{"d":251,"r":38.2},{"d":255,"r":38.9},{"d":260,"r":40.2},{"d":264,"r":45.7},{"d":268,"r":52.8},{"d":273,"r":55.6},{"d":278,"r":52.1},{"d":282,"r":48},{"d":286,"r":45},{"d":290,"r":48.7},{"d":293,"r":53.8},{"d":296,"r":56.2},{"d":302,"r":54.5},{"d":309,"r":47.7},{"d":313,"r":54.1},{"d":315,"r":57.9},{"d":319,"r":60.2},{"d":322,"r":66.7},{"d":326,"r":66},{"d":330,"r":63.2},{"d":334,"r":64.6},{"d":337,"r":66.3},{"d":342,"r":68.4},{"d":346,"r":65.7},{"d":350,"r":64.3},{"d":354,"r":57.5},{"d":357,"r":52.8},{"d":362,"r":46},{"d":366,"r":42.9},{"d":372,"r":47.9},{"d":376,"r":47.2},{"d":381,"r":46.7},{"d":385,"r":44},{"d":389,"r":46},{"d":392,"r":46.7},{"d":397,"r":45.7},{"d":402,"r":40.6},{"d":407,"r":36.2},{"d":411,"r":34.5},{"d":415,"r":36.5},{"d":420,"r":40.7},{"d":425,"r":38.5},{"d":430,"r":36.5},{"d":435,"r":34.3},{"d":439,"r":35.2},{"d":445,"r":36.2},{"d":448,"r":38.9},{"d":451,"r":40.7},{"d":457,"r":40.4},{"d":461,"r":39.9},{"d":465,"r":34.8},{"d":469,"r":36.2},{"d":474,"r":36.8},{"d":478,"r":42.6},{"d":483,"r":48},{"d":488,"r":54.8},{"d":492,"r":55.6},{"d":496,"r":63.6},{"d":500,"r":69.1},{"d":506,"r":74.6},{"d":510,"r":70.1},{"d":514,"r":66.3},{"d":519,"r":62.9},{"d":524,"r":58.9},{"d":529,"r":56.8},{"d":534,"r":53.5},{"d":538,"r":50.1},{"d":541,"r":46.3},{"d":546,"r":45.9},{"d":551,"r":49.4},{"d":555,"r":52.1},{"d":558,"r":58.9},{"d":561,"r":64.3},{"d":564,"r":71.8},{"d":567,"r":76.5},{"d":569,"r":78.7},{"d":571,"r":79.9},{"d":573,"r":81.6},{"d":576,"r":80.9},{"d":579,"r":75.8},{"d":581,"r":70.4},{"d":583,"r":67.4},{"d":588,"r":64.5},{"d":591,"r":65.7},{"d":594,"r":68.2},{"d":598,"r":67},{"d":601,"r":65},{"d":605,"r":60.9},{"d":609,"r":56.7},{"d":612,"r":56.2},{"d":615,"r":52.1},{"d":619,"r":51.3},{"d":621,"r":53.5},{"d":628,"r":55},{"d":632,"r":52.1},{"d":636,"r":46},{"d":639,"r":44.5},{"d":643,"r":45.7},{"d":647,"r":51.1},{"d":652,"r":51.1},{"d":656,"r":46.7},{"d":661,"r":41.9},{"d":665,"r":44.1},{"d":671,"r":44.8},{"d":675,"r":42.3},{"d":681,"r":38.9},{"d":685,"r":35.8},{"d":687,"r":36.3},{"d":690,"r":35.2}],
"overbought":[{"g":"a","d":41,"r":70},{"g":"a","d":42,"r":73.1},{"g":"a","d":43,"r":70.7},{"g":"a","d":44,"r":78},{"g":"a","d":45,"r":76.2},{"g":"a","d":47,"r":73.8},{"g":"a","d":48,"r":77.2},{"g":"a","d":50,"r":81.6},{"g":"a","d":51,"r":76.5},{"g":"a","d":52,"r":75.2},{"g":"a","d":53,"r":70.4},{"g":"a","d":54,"r":75.8},{"g":"a","d":55,"r":78.5},{"g":"a","d":57,"r":81.9},{"g":"a","d":58,"r":84.3},{"g":"a","d":59,"r":80},{"g":"a","d":60,"r":82.3},{"g":"a","d":61,"r":80.9},{"g":"a","d":63,"r":85},{"g":"a","d":64,"r":78.4},{"g":"a","d":65,"r":84},{"g":"a","d":66,"r":84.3},{"g":"a","d":67,"r":84.8},{"g":"a","d":68,"r":83.3},{"g":"a","d":69,"r":85.3},{"g":"a","d":71,"r":78.9},{"g":"a","d":72,"r":79.2},{"g":"a","d":73,"r":70},{"g":"b","d":493,"r":70},{"g":"b","d":494,"r":79.9},{"g":"b","d":495,"r":85.5},{"g":"b","d":496,"r":79.2},{"g":"b","d":497,"r":78.2},{"g":"b","d":498,"r":81.9},{"g":"b","d":499,"r":73.8},{"g":"b","d":500,"r":70},{"g":"c","d":555,"r":70},{"g":"c","d":556,"r":71.4},{"g":"c","d":557,"r":71.6},{"g":"c","d":558,"r":70.4},{"g":"c","d":560,"r":72.8},{"g":"c","d":561,"r":78.5},{"g":"c","d":563,"r":83.6},{"g":"c","d":564,"r":85},{"g":"c","d":565,"r":87},{"g":"c","d":566,"r":87.5},{"g":"c","d":568,"r":86},{"g":"c","d":569,"r":79.9},{"g":"c","d":570,"r":78.2},{"g":"c","d":571,"r":78.5},{"g":"c","d":573,"r":81.3},{"g":"c","d":574,"r":75.7},{"g":"c","d":575,"r":75.2},{"g":"c","d":576,"r":75.8},{"g":"c","d":577,"r":70},{"g":"d","d":-54,"r":70},{"g":"d","d":-53,"r":84},{"g":"d","d":-52,"r":73.8},{"g":"d","d":-51,"r":70}],
"oversold":[{"g":"a","d":-138,"r":30},{"g":"a","d":-137,"r":21.3},{"g":"a","d":-136,"r":19.4},{"g":"a","d":-135,"r":21.9},{"g":"a","d":-134,"r":26.3},{"g":"a","d":-133,"r":24.3},{"g":"a","d":-132,"r":21.7},{"g":"a","d":-131,"r":30},{"g":"b","d":214,"r":30},{"g":"b","d":215,"r":28.4},{"g":"b","d":216,"r":25.7},{"g":"b","d":217,"r":20.6},{"g":"b","d":218,"r":22.9},{"g":"b","d":219,"r":30},{"g":"c","d":460,"r":30},{"g":"c","d":461,"r":29.4},{"g":"c","d":463,"r":24.6},{"g":"c","d":464,"r":30}],
"profile":[{"lo":1386,"hi":1396,"up":16,"vol":16,"va":0},{"lo":1401,"hi":1411,"up":16,"vol":21,"va":0},{"lo":1416,"hi":1426,"up":16,"vol":38,"va":0},{"lo":1431,"hi":1441,"up":16,"vol":40,"va":0},{"lo":1446,"hi":1456,"up":16,"vol":49,"va":0},{"lo":1461,"hi":1471,"up":16,"vol":50,"va":0},{"lo":1475,"hi":1485,"up":16,"vol":59,"va":0},{"lo":1490,"hi":1500,"up":16,"vol":59,"va":0},{"lo":1505,"hi":1515,"up":31,"vol":74,"va":0},{"lo":1520,"hi":1530,"up":31,"vol":87,"va":0},{"lo":1535,"hi":1545,"up":62,"vol":155,"va":0},{"lo":1550,"hi":1560,"up":122,"vol":276,"va":0},{"lo":1565,"hi":1575,"up":144,"vol":354,"va":0},{"lo":1580,"hi":1590,"up":184,"vol":393,"va":0},{"lo":1595,"hi":1605,"up":185,"vol":388,"va":0},{"lo":1610,"hi":1620,"up":200,"vol":439,"va":0},{"lo":1624,"hi":1634,"up":213,"vol":495,"va":0},{"lo":1639,"hi":1649,"up":187,"vol":463,"va":0},{"lo":1654,"hi":1664,"up":172,"vol":346,"va":0},{"lo":1669,"hi":1679,"up":134,"vol":226,"va":0},{"lo":1684,"hi":1694,"up":100,"vol":162,"va":0},{"lo":1699,"hi":1709,"up":42,"vol":88,"va":0},{"lo":1714,"hi":1724,"up":38,"vol":86,"va":0},{"lo":1729,"hi":1739,"up":42,"vol":92,"va":0},{"lo":1744,"hi":1754,"up":85,"vol":141,"va":0},{"lo":1759,"hi":1769,"up":138,"vol":227,"va":0},{"lo":1773,"hi":1783,"up":189,"vol":312,"va":0},{"lo":1788,"hi":1798,"up":242,"vol":419,"va":0},{"lo":1803,"hi":1813,"up":247,"vol":443,"va":0},{"lo":1818,"hi":1828,"up":256,"vol":474,"va":0},{"lo":1833,"hi":1843,"up":202,"vol":435,"va":0},{"lo":1848,"hi":1858,"up":209,"vol":420,"va":0},{"lo":1863,"hi":1873,"up":188,"vol":404,"va":0},{"lo":1878,"hi":1888,"up":185,"vol":365,"va":0},{"lo":1893,"hi":1903,"up":176,"vol":316,"va":0},{"lo":1908,"hi":1918,"up":123,"vol":247,"va":0},{"lo":1922,"hi":1932,"up":114,"vol":222,"va":0},{"lo":1937,"hi":1947,"up":100,"vol":215,"va":0},{"lo":1952,"hi":1962,"up":81,"vol":175,"va":0},{"lo":1967,"hi":1977,"up":81,"vol":164,"va":0},{"lo":1982,"hi":1992,"up":102,"vol":208,"va":0},{"lo":1997,"hi":2007,"up":126,"vol":230,"va":0},{"lo":2012,"hi":2022,"up":108,"vol":220,"va":0},{"lo":2027,"hi":2037,"up":116,"vol":233,"va":0},{"lo":2042,"hi":2052,"up":127,"vol":255,"va":0},{"lo":2057,"hi":2067,"up":121,"vol":247,"va":0},{"lo":2071,"hi":2081,"up":102,"vol":208,"va":0},{"lo":2086,"hi":2096,"up":94,"vol":168,"va":0},{"lo":2101,"hi":2111,"up":82,"vol":153,"va":0},{"lo":2116,"hi":2126,"up":70,"vol":159,"va":0},{"lo":2131,"hi":2141,"up":55,"vol":140,"va":0},{"lo":2146,"hi":2156,"up":69,"vol":155,"va":1},{"lo":2161,"hi":2171,"up":93,"vol":194,"va":1},{"lo":2176,"hi":2186,"up":109,"vol":244,"va":1},{"lo":2191,"hi":2201,"up":155,"vol":310,"va":1},{"lo":2206,"hi":2216,"up":190,"vol":364,"va":1},{"lo":2220,"hi":2230,"up":192,"vol":386,"va":1},{"lo":2235,"hi":2245,"up":215,"vol":417,"va":1},{"lo":2250,"hi":2260,"up":239,"vol":434,"va":1},{"lo":2265,"hi":2275,"up":237,"vol":444,"va":1},{"lo":2280,"hi":2290,"up":197,"vol":400,"va":1},{"lo":2295,"hi":2305,"up":192,"vol":404,"va":1},{"lo":2310,"hi":2320,"up":180,"vol":378,"va":1},{"lo":2325,"hi":2335,"up":186,"vol":340,"va":1},{"lo":2340,"hi":2350,"up":205,"vol":356,"va":1},{"lo":2355,"hi":2365,"up":210,"vol":353,"va":1},{"lo":2369,"hi":2379,"up":211,"vol":362,"va":1},{"lo":2384,"hi":2394,"up":213,"vol":366,"va":1},{"lo":2399,"hi":2409,"up":188,"vol":360,"va":1},{"lo":2414,"hi":2424,"up":238,"vol":437,"va":1},{"lo":2429,"hi":2439,"up":247,"vol":477,"va":1},{"lo":2444,"hi":2454,"up":239,"vol":503,"va":1},{"lo":2459,"hi":2469,"up":253,"vol":535,"va":1},{"lo":2474,"hi":2484,"up":290,"vol":587,"va":1},{"lo":2489,"hi":2499,"up":287,"vol":595,"va":1},{"lo":2504,"hi":2514,"up":308,"vol":632,"va":1},{"lo":2518,"hi":2528,"up":304,"vol":622,"va":1},{"lo":2533,"hi":2543,"up":300,"vol":612,"va":1},{"lo":2548,"hi":2558,"up":269,"vol":554,"va":1},{"lo":2563,"hi":2573,"up":266,"vol":551,"va":1},{"lo":2578,"hi":2588,"up":270,"vol":562,"va":1},{"lo":2593,"hi":2603,"up":291,"vol":562,"va":1},{"lo":2608,"hi":2618,"up":287,"vol":570,"va":1},{"lo":2623,"hi":2633,"up":269,"vol":574,"va":1},{"lo":2638,"hi":2648,"up":249,"vol":548,"va":1},{"lo":2653,"hi":2663,"up":247,"vol":505,"va":1},{"lo":2667,"hi":2677,"up":223,"vol":469,"va":1},{"lo":2682,"hi":2692,"up":177,"vol":386,"va":1},{"lo":2697,"hi":2707,"up":150,"vol":324,"va":1},{"lo":2712,"hi":2722,"up":153,"vol":312,"va":1},{"lo":2727,"hi":2737,"up":138,"vol":272,"va":1},{"lo":2742,"hi":2752,"up":128,"vol":266,"va":1},{"lo":2757,"hi":2767,"up":142,"vol":271,"va":1},{"lo":2772,"hi":2782,"up":136,"vol":253,"va":1},{"lo":2787,"hi":2797,"up":121,"vol":218,"va":1},{"lo":2802,"hi":2812,"up":96,"vol":181,"va":1},{"lo":2816,"hi":2826,"up":89,"vol":183,"va":1},{"lo":2831,"hi":2841,"up":66,"vol":159,"va":1},{"lo":2846,"hi":2856,"up":61,"vol":143,"va":1},{"lo":2861,"hi":2871,"up":56,"vol":144,"va":1},{"lo":2876,"hi":2883,"up":67,"vol":162,"va":1},{"lo":2891,"hi":2898,"up":85,"vol":158,"va":1},{"lo":2906,"hi":2913,"up":110,"vol":203,"va":1},{"lo":2921,"hi":2928,"up":113,"vol":226,"va":1},{"lo":2936,"hi":2943,"up":132,"vol":250,"va":1},{"lo":2951,"hi":2958,"up":152,"vol":271,"va":1},{"lo":2965,"hi":2972,"up":174,"vol":294,"va":1},{"lo":2980,"hi":2987,"up":163,"vol":280,"va":1},{"lo":2995,"hi":3002,"up":150,"vol":265,"va":1},{"lo":3010,"hi":3017,"up":146,"vol":262,"va":1},{"lo":3025,"hi":3032,"up":144,"vol":267,"va":1},{"lo":3040,"hi":3047,"up":128,"vol":259,"va":1},{"lo":3055,"hi":3062,"up":143,"vol":287,"va":1},{"lo":3070,"hi":3077,"up":169,"vol":324,"va":1},{"lo":3085,"hi":3092,"up":166,"vol":328,"va":1},{"lo":3100,"hi":3107,"up":180,"vol":356,"va":1},{"lo":3114,"hi":3121,"up":188,"vol":380,"va":1},{"lo":3129,"hi":3136,"up":179,"vol":356,"va":1},{"lo":3144,"hi":3151,"up":173,"vol":361,"va":1},{"lo":3159,"hi":3166,"up":170,"vol":323,"va":1},{"lo":3174,"hi":3181,"up":162,"vol":321,"va":1},{"lo":3189,"hi":3196,"up":169,"vol":330,"va":1},{"lo":3204,"hi":3211,"up":181,"vol":356,"va":1},{"lo":3219,"hi":3226,"up":186,"vol":368,"va":1},{"lo":3234,"hi":3241,"up":172,"vol":361,"va":1},{"lo":3249,"hi":3256,"up":168,"vol":358,"va":1},{"lo":3263,"hi":3270,"up":166,"vol":360,"va":1},{"lo":3278,"hi":3285,"up":158,"vol":360,"va":1},{"lo":3293,"hi":3300,"up":146,"vol":347,"va":1},{"lo":3308,"hi":3315,"up":188,"vol":397,"va":1},{"lo":3323,"hi":3330,"up":193,"vol":407,"va":1},{"lo":3338,"hi":3345,"up":205,"vol":408,"va":1},{"lo":3353,"hi":3360,"up":209,"vol":411,"va":1},{"lo":3368,"hi":3375,"up":214,"vol":423,"va":1},{"lo":3383,"hi":3390,"up":207,"vol":428,"va":1},{"lo":3398,"hi":3405,"up":197,"vol":427,"va":1},{"lo":3412,"hi":3419,"up":214,"vol":448,"va":1},{"lo":3427,"hi":3434,"up":217,"vol":442,"va":1},{"lo":3442,"hi":3449,"up":204,"vol":411,"va":1},{"lo":3457,"hi":3464,"up":203,"vol":388,"va":1},{"lo":3472,"hi":3479,"up":203,"vol":390,"va":1},{"lo":3487,"hi":3494,"up":187,"vol":378,"va":1},{"lo":3502,"hi":3509,"up":188,"vol":379,"va":1},{"lo":3517,"hi":3524,"up":182,"vol":367,"va":1},{"lo":3532,"hi":3539,"up":160,"vol":349,"va":1},{"lo":3547,"hi":3554,"up":127,"vol":317,"va":1},{"lo":3561,"hi":3568,"up":127,"vol":311,"va":1},{"lo":3576,"hi":3583,"up":153,"vol":331,"va":1},{"lo":3591,"hi":3598,"up":147,"vol":313,"va":1},{"lo":3606,"hi":3613,"up":141,"vol":313,"va":1},{"lo":3621,"hi":3628,"up":146,"vol":328,"va":1},{"lo":3636,"hi":3643,"up":142,"vol":323,"va":1},{"lo":3651,"hi":3658,"up":134,"vol":306,"va":1},{"lo":3666,"hi":3673,"up":135,"vol":282,"va":1},{"lo":3681,"hi":3688,"up":124,"vol":272,"va":1},{"lo":3696,"hi":3703,"up":130,"vol":281,"va":1},{"lo":3710,"hi":3717,"up":136,"vol":294,"va":1},{"lo":3725,"hi":3732,"up":148,"vol":295,"va":1},{"lo":3740,"hi":3747,"up":139,"vol":288,"va":1},{"lo":3755,"hi":3762,"up":127,"vol":290,"va":1},{"lo":3770,"hi":3777,"up":125,"vol":285,"va":1},{"lo":3785,"hi":3792,"up":125,"vol":279,"va":1},{"lo":3800,"hi":3807,"up":142,"vol":289,"va":1},{"lo":3815,"hi":3822,"up":149,"vol":291,"va":1},{"lo":3830,"hi":3837,"up":155,"vol":299,"va":1},{"lo":3845,"hi":3852,"up":147,"vol":294,"va":1},{"lo":3859,"hi":3866,"up":144,"vol":289,"va":1},{"lo":3874,"hi":3881,"up":154,"vol":289,"va":1},{"lo":3889,"hi":3896,"up":144,"vol":257,"va":1},{"lo":3904,"hi":3911,"up":130,"vol":242,"va":1},{"lo":3919,"hi":3926,"up":127,"vol":236,"va":1},{"lo":3934,"hi":3940,"up":115,"vol":218,"va":0},{"lo":3949,"hi":3955,"up":102,"vol":183,"va":0},{"lo":3964,"hi":3970,"up":96,"vol":173,"va":0},{"lo":3979,"hi":3985,"up":80,"vol":166,"va":0},{"lo":3994,"hi":4000,"up":68,"vol":153,"va":0},{"lo":4008,"hi":4014,"up":68,"vol":147,"va":0},{"lo":4023,"hi":4029,"up":60,"vol":128,"va":0},{"lo":4038,"hi":4044,"up":58,"vol":110,"va":0},{"lo":4053,"hi":4059,"up":62,"vol":110,"va":0},{"lo":4068,"hi":4074,"up":55,"vol":112,"va":0},{"lo":4083,"hi":4089,"up":44,"vol":102,"va":0},{"lo":4098,"hi":4104,"up":37,"vol":97,"va":0},{"lo":4113,"hi":4119,"up":32,"vol":91,"va":0},{"lo":4128,"hi":4134,"up":36,"vol":97,"va":0},{"lo":4143,"hi":4149,"up":34,"vol":96,"va":0},{"lo":4157,"hi":4163,"up":33,"vol":99,"va":0},{"lo":4172,"hi":4178,"up":32,"vol":99,"va":0},{"lo":4187,"hi":4193,"up":29,"vol":95,"va":0},{"lo":4202,"hi":4208,"up":29,"vol":97,"va":0},{"lo":4217,"hi":4223,"up":33,"vol":102,"va":0},{"lo":4232,"hi":4238,"up":32,"vol":102,"va":0},{"lo":4247,"hi":4253,"up":32,"vol":96,"va":0},{"lo":4262,"hi":4268,"up":50,"vol":113,"va":0},{"lo":4277,"hi":4283,"up":70,"vol":138,"va":0},{"lo":4292,"hi":4298,"up":79,"vol":147,"va":0},{"lo":4306,"hi":4312,"up":81,"vol":149,"va":0},{"lo":4321,"hi":4327,"up":84,"vol":148,"va":0},{"lo":4336,"hi":4342,"up":84,"vol":143,"va":0},{"lo":4351,"hi":4357,"up":84,"vol":136,"va":0},{"lo":4366,"hi":4372,"up":84,"vol":133,"va":0},{"lo":4381,"hi":4387,"up":72,"vol":125,"va":0},{"lo":4396,"hi":4402,"up":71,"vol":121,"va":0},{"lo":4411,"hi":4417,"up":75,"vol":125,"va":0},{"lo":4426,"hi":4432,"up":78,"vol":136,"va":0},{"lo":4441,"hi":4447,"up":83,"vol":157,"va":0},{"lo":4455,"hi":4461,"up":85,"vol":168,"va":0},{"lo":4470,"hi":4476,"up":93,"vol":178,"va":0},{"lo":4485,"hi":4491,"up":83,"vol":160,"va":0},{"lo":4500,"hi":4506,"up":72,"vol":136,"va":0},{"lo":4515,"hi":4521,"up":62,"vol":118,"va":0},{"lo":4530,"hi":4536,"up":60,"vol":107,"va":0},{"lo":4545,"hi":4551,"up":60,"vol":103,"va":0},{"lo":4560,"hi":4566,"up":59,"vol":108,"va":0},{"lo":4575,"hi":4581,"up":59,"vol":112,"va":0},{"lo":4590,"hi":4596,"up":54,"vol":108,"va":0},{"lo":4604,"hi":4610,"up":51,"vol":109,"va":0},{"lo":4619,"hi":4625,"up":40,"vol":96,"va":0},{"lo":4634,"hi":4640,"up":27,"vol":82,"va":0},{"lo":4649,"hi":4655,"up":22,"vol":71,"va":0},{"lo":4664,"hi":4670,"up":22,"vol":68,"va":0},{"lo":4679,"hi":4685,"up":22,"vol":58,"va":0},{"lo":4694,"hi":4700,"up":22,"vol":53,"va":0},{"lo":4709,"hi":4715,"up":27,"vol":57,"va":0},{"lo":4724,"hi":4730,"up":28,"vol":60,"va":0},{"lo":4739,"hi":4745,"up":25,"vol":55,"va":0},{"lo":4753,"hi":4759,"up":21,"vol":49,"va":0},{"lo":4768,"hi":4774,"up":21,"vol":43,"va":0},{"lo":4783,"hi":4789,"up":13,"vol":31,"va":0},{"lo":4798,"hi":4804,"up":12,"vol":19,"va":0},{"lo":4813,"hi":4819,"up":12,"vol":18,"va":0},{"lo":4828,"hi":4834,"up":12,"vol":15,"va":0},{"lo":4843,"hi":4849,"up":12,"vol":12,"va":0},{"lo":4858,"hi":4864,"up":12,"vol":12,"va":0},{"lo":4873,"hi":4879,"up":12,"vol":12,"va":0},{"lo":4888,"hi":4894,"up":8,"vol":8,"va":0},{"lo":4902,"hi":4908,"up":7,"vol":7,"va":0},{"lo":4917,"hi":4923,"up":7,"vol":7,"va":0},{"lo":4932,"hi":4938,"up":7,"vol":7,"va":0},{"lo":4947,"hi":4953,"up":6,"vol":6,"va":0}]
},
"vconcat":[
{"width":3390,"height":88,"layer":[
{"data":{"values":[{"d":-176.5,"line":1,"t":"HexaTrades","k":"bright"},{"d":-176.5,"line":2,"t":"BINANCE:ETHUSDT, 1D","k":"bright"},{"d":16.1,"line":2,"t":"O:","k":"bright"},{"d":59.8,"line":2,"t":"H:","k":"bright"},{"d":102.8,"line":2,"t":"L:","k":"bright"},{"d":143.6,"line":2,"t":"C:","k":"bright"}]},"mark":{"type":"text","align":"left","baseline":"middle","fontSize":24.5,"fontWeight":"bold"}},
{"data":{"values":[{"d":-131.4,"line":1,"t":"published on TradingView.com, November 21, 2025 12:18:05 EST","k":"muted"}]},"mark":{"type":"text","align":"left","baseline":"middle","fontSize":25.6}},
{"data":{"values":[{"d":-88.1,"line":2,"t":"2,788.11","k":"muted"},{"d":-54.4,"line":2,"t":"▼","k":"red"},{"d":-45.3,"line":2,"t":"−46.11 (−1.63%)","k":"muted"},{"d":25.3,"line":2,"t":"2,834.21","k":"red"},{"d":68.3,"line":2,"t":"2,886.73","k":"red"},{"d":109.4,"line":2,"t":"2,623.57","k":"red"},{"d":151.7,"line":2,"t":"2,788.11","k":"red"}]},"mark":{"type":"text","align":"left","baseline":"middle","fontSize":24.5}}
],
"encoding":{"x":{"field":"d","type":"quantitative","axis":null,"scale":{"domain":[-175.9,908.2],"nice":false,"zero":false}},"y":{"field":"line","type":"ordinal","axis":null,"scale":{"type":"point","domain":[1,2],"range":[24,58],"padding":0}},"text":{"field":"t"},"color":{"field":"k","type":"nominal","legend":null,"scale":{"domain":["bright","muted","red"],"range":["#d1d4dc","#b2b5be","#f7525f"]}}}},
{"width":3390,"height":1233,"view":{"fill":"#ffffff","stroke":null},"resolve":{"scale":{"x":"independent"}},"layer":[
{"data":{"name":"profile"},"encoding":{"y":{"field":"lo","type":"quantitative","scale":{"type":"log","domain":[1158.7,6082],"nice":false},"axis":{"orient":"right","offset":-143,"title":null,"grid":false,"ticks":false,"zindex":1,"values":[5500,5000,4600,4200,3800,3400,3000,2400,2200,2000,1800,1640,1490,1370,1250],"format":",.2f","labelFontSize":26,"labelColor":"#131722","labelPadding":18,"labelOverlap":false,"domainColor":"#131722","domainWidth":3}},"y2":{"field":"hi"},"opacity":{"field":"va","type":"ordinal","legend":null,"scale":{"domain":[0,1],"range":[0.68,1]}}},"layer":[
{"mark":{"type":"rect","color":"#5cd3e4"},"encoding":{"x":{"field":"up","type":"quantitative","axis":null,"scale":{"domain":[3247,-143],"nice":false,"zero":false}},"x2":{"datum":0}}},
{"mark":{"type":"rect","color":"#f273a0"},"encoding":{"x":{"field":"vol","type":"quantitative","axis":null,"scale":{"domain":[3247,-143],"nice":false,"zero":false}},"x2":{"field":"up"}}}
]},
{"encoding":{"x":{"field":"d","type":"quantitative","scale":{"domain":[-175.9,908.2],"nice":false,"zero":false},"axis":{"title":null,"labels":false,"ticks":false,"grid":false,"domainColor":"#2a2e39","domainWidth":3}},"y":{"field":"p","type":"quantitative","scale":{"type":"log","domain":[1158.7,6082],"nice":false},"axis":{"orient":"right","offset":-143,"title":null,"grid":false,"ticks":false,"zindex":1,"values":[5500,5000,4600,4200,3800,3400,3000,2400,2200,2000,1800,1640,1490,1370,1250],"format":",.2f","labelFontSize":26,"labelColor":"#131722","labelPadding":18,"labelOverlap":false,"domainColor":"#131722","domainWidth":3}}},
"layer":[
{"data":{"values":[{"d":-175.9,"d2":862.6,"p":2518}]},"mark":{"type":"rule","color":"#d9d9d9","strokeWidth":4},"encoding":{"x2":{"field":"d2"}}},
{"data":{"name":"price"},"mark":{"type":"line","color":"#2962ff","strokeWidth":3.8,"strokeJoin":"round"}},
{"data":{"values":[{"d":690,"p":2788.11}]},"mark":{"type":"point","shape":"circle","filled":true,"size":150,"color":"#2962ff","opacity":1}},
{"data":{"values":[{"d":-9.3,"d2":748.3,"p":2706,"p2":2875.6}]},"mark":{"type":"rect","color":"#4caf50","opacity":0.38},"encoding":{"x2":{"field":"d2"},"y2":{"field":"p2"}}},
{"data":{"values":[{"d":461.1,"d2":764.6,"p":3163.72},{"d":461.1,"d2":764.6,"p":2744.69}]},"mark":{"type":"rule","color":"#ff9800","strokeWidth":5.5,"strokeCap":"round"},"encoding":{"x2":{"field":"d2"}}},
{"data":{"values":[{"d":456.5,"p":3163.72,"t":"0.5 (3,163.72)"},{"d":456.5,"p":2744.69,"t":"0.618 (2,744.69)"}]},"mark":{"type":"text","align":"right","baseline":"middle","fontSize":26,"color":"#ff9800"},"encoding":{"text":{"field":"t"}}},
{"data":{"values":[{"d":-175.9,"d2":862.6,"p":2788.11}]},"mark":{"type":"rule","color":"#2962ff","strokeWidth":2,"strokeDash":[2.5,3.5]},"encoding":{"x2":{"field":"d2"}}},
{"data":{"values":[{"d":113.8,"p":2555},{"d":186.1,"p":2510},{"d":693,"p":2541}]},"mark":{"type":"point","filled":true,"opacity":1,"size":1936,"color":"#2bff00","shape":"M0,-1 L0.84,0.06 L0.45,0.06 L0.45,1 L-0.45,1 L-0.45,0.06 L-0.84,0.06 Z"}},
{"data":{"values":[{"d":234,"p":3035},{"d":287.7,"p":2998},{"d":416.9,"p":3008},{"d":525.1,"p":3000}]},"mark":{"type":"point","filled":true,"opacity":1,"size":1936,"color":"#f23645","shape":"M0,1 L0.84,-0.07 L0.45,-0.07 L0.45,-1 L-0.45,-1 L-0.45,-0.07 L-0.84,-0.07 Z"}},
{"data":{"values":[{"d":291,"d2":551,"p":4704,"p2":5432}]},"mark":{"type":"rect","color":"#f8f9fd"},"encoding":{"x2":{"field":"d2"},"y2":{"field":"p2"}}},
{"data":{"values":[{"d":421,"p":4997,"t":"ETHUSDT ( Day Chart)"}]},"mark":{"type":"text","align":"center","baseline":"middle","fontSize":79.5,"color":"#5d606b"},"encoding":{"text":{"field":"t"}}},
{"data":{"values":[{"d":-170.6,"p":5825,"t":"Ethereum / TetherUS · 1D · Binance"}]},"mark":{"type":"text","align":"left","baseline":"middle","fontSize":25,"fontWeight":500,"color":"#131722"},"encoding":{"text":{"field":"t"}}},
{"data":{"values":[{"d":880.7,"p":5825,"t":"USDT"}]},"mark":{"type":"text","align":"center","baseline":"middle","fontSize":25,"color":"#131722"},"encoding":{"text":{"field":"t"}}},
{"data":{"values":[{"d":862.8,"d2":905,"p":2520.6,"p2":2845}]},"mark":{"type":"rect","color":"#2962ff","cornerRadiusTopRight":5,"cornerRadiusBottomRight":5},"encoding":{"x2":{"field":"d2"},"y2":{"field":"p2"}}},
{"data":{"values":[{"d":868.6,"p":2788.11,"t":"2,788.11","k":"a"},{"d":868.6,"p":2681,"t":"+49.67%","k":"a"},{"d":868.6,"p":2582,"t":"06:41:58","k":"b"}]},"mark":{"type":"text","align":"left","baseline":"middle","fontSize":26},"encoding":{"text":{"field":"t"},"color":{"field":"k","type":"nominal","legend":null,"scale":{"domain":["a","b"],"range":["#ffffff","#a9bdff"]}}}},
{"data":{"values":[{"d":790.2,"p":1305,"t":"HEXA"}]},"mark":{"type":"text","align":"center","baseline":"middle","fontSize":68,"color":"#00e676"},"encoding":{"text":{"field":"t"}}},
{"data":{"values":[{"d":790.2,"p":1210,"t":"TRADES"}]},"mark":{"type":"text","align":"center","baseline":"middle","fontSize":44,"color":"#00e676"},"encoding":{"text":{"field":"t"}}},
{"data":{"values":[{"d":690,"p":1200}]},"mark":{"type":"point","shape":"circle","size":1600,"filled":false,"stroke":"#9c27b0","strokeWidth":3.5,"opacity":1}},
{"data":{"values":[{"d":690,"p":1200}]},"mark":{"type":"point","filled":true,"opacity":1,"size":576,"color":"#9c27b0","shape":"M0.2,-1 L-0.6,0.15 L-0.05,0.15 L-0.2,1 L0.6,-0.15 L0.05,-0.15 Z"}},
{"data":{"values":[{"d":694.4,"p":1221}]},"mark":{"type":"point","shape":"circle","filled":true,"opacity":1,"size":121,"color":"#f23645"}}
]}
]},
{"width":3390,"height":537,"view":{"fill":"#ffffff","stroke":null},
"encoding":{"x":{"field":"d","type":"quantitative","scale":{"domain":[-175.9,908.2],"nice":false,"zero":false},"axis":{"orient":"bottom","offset":-55,"title":null,"grid":false,"ticks":false,"values":[-122,-61,0,60,121,182,244,305,366,425,486,547,609,670,731,790,851],"labelExpr":"{'-122':'Sep','-61':'Nov','0':'2024','60':'Mar','121':'May','182':'Jul','244':'Sep','305':'Nov','366':'2025','425':'Mar','486':'May','547':'Jul','609':'Sep','670':'Nov','731':'2026','790':'Mar','851':'May'}[datum.value]","labelFontSize":26,"labelColor":"#131722","labelPadding":14,"labelOverlap":false,"labelFontWeight":{"condition":{"test":"datum.value===0||datum.value===366||datum.value===731","value":"bold"},"value":"normal"},"domainColor":"#131722","domainWidth":3.5}},
"y":{"field":"r","type":"quantitative","scale":{"domain":[2.8,96.1],"nice":false,"zero":false},"axis":{"orient":"right","offset":-143,"title":null,"grid":false,"ticks":false,"zindex":1,"values":[80,60,40,20],"format":".2f","labelFontSize":26,"labelColor":"#131722","labelPadding":18,"labelOverlap":false,"domainColor":"#131722","domainWidth":3}}},
"layer":[
{"data":{"values":[{"d":-175.9,"d2":862.6,"r":30,"r2":70}]},"mark":{"type":"rect","color":"#7e57c2","opacity":0.1},"encoding":{"x2":{"field":"d2"},"y2":{"field":"r2"}}},
{"data":{"values":[{"d":-175.9,"d2":862.6,"r":70},{"d":-175.9,"d2":862.6,"r":30}]},"mark":{"type":"rule","color":"#787b86","strokeWidth":2,"strokeDash":[9,6]},"encoding":{"x2":{"field":"d2"}}},
{"data":{"values":[{"d":-175.9,"d2":862.6,"r":50}]},"mark":{"type":"rule","color":"#b7b9c0","strokeWidth":2,"strokeDash":[9,6]},"encoding":{"x2":{"field":"d2"}}},
{"data":{"name":"overbought"},"mark":{"type":"area","color":{"gradient":"linear","x1":0,"y1":0,"x2":0,"y2":1,"stops":[{"offset":0,"color":"#4caf50"},{"offset":1,"color":"#ffffff"}]},"opacity":0.6},"encoding":{"detail":{"field":"g"},"y2":{"datum":70}}},
{"data":{"name":"oversold"},"mark":{"type":"area","color":"#f23645","opacity":0.25},"encoding":{"detail":{"field":"g"},"y2":{"datum":30}}},
{"data":{"name":"rsi"},"mark":{"type":"line","color":"#7e57c2","strokeWidth":2}},
{"data":{"name":"ma"},"mark":{"type":"line","color":"#fdd835","strokeWidth":2}},
{"data":{"values":[{"d":-158.3,"d2":-104.6,"r":21.1,"r2":30},{"d":176.5,"d2":227.3,"r":21.5,"r2":30},{"d":450.6,"d2":478.4,"r":25.3,"r2":29.5},{"d":679.5,"d2":701.4,"r":21.5,"r2":29.5}]},"mark":{"type":"rect","color":"#4caf50","opacity":0.38},"encoding":{"x2":{"field":"d2"},"y2":{"field":"r2"}}}
]},
{"width":3390,"height":74,"layer":[
{"data":{"values":[{"d":-169.5}]},"mark":{"type":"point","filled":true,"opacity":1,"size":2116,"color":"#d1d4dc","shape":"M-1,-0.5 H-0.28 V0.5 H-0.64 V-0.14 H-1 Z M-0.18,-0.32 a0.16,0.16 0 1 0 0.32,0 a0.16,0.16 0 1 0 -0.32,0 Z M0.3,-0.5 H1 L0.6,0.5 H-0.05 Z"}},
{"data":{"values":[{"d":-158.9,"t":"TradingView"}]},"mark":{"type":"text","align":"left","baseline":"middle","fontSize":33,"fontWeight":600,"color":"#d1d4dc"},"encoding":{"text":{"field":"t"}}}
],
"encoding":{"x":{"field":"d","type":"quantitative","axis":null,"scale":{"domain":[-175.9,908.2],"nice":false,"zero":false}}}}
],
"config":{"font":"Roboto","view":{"stroke":null},"axis":{"labelFont":"Roboto"}}}
